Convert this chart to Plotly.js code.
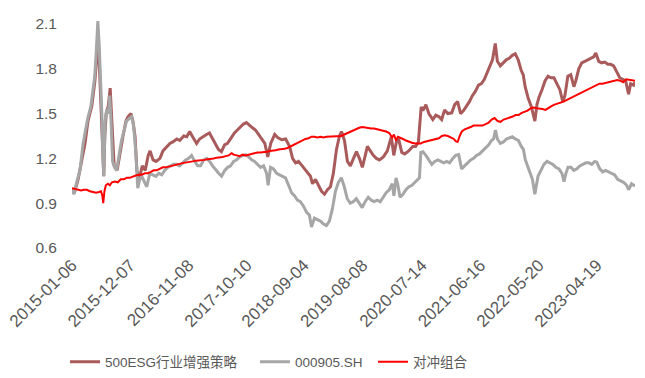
<!DOCTYPE html>
<html>
<head>
<meta charset="utf-8">
<script src="https://cdn.plot.ly/plotly-3.0.1.min.js"></script>
<style>html,body{margin:0;padding:0;background:#fff;}#chart{width:645px;height:378px;}</style>
</head>
<body>
<div id="chart"></div>
<script>
var tickDates = ['2015-01-06','2015-12-07','2016-11-08','2017-10-10','2018-09-04','2019-08-08','2020-07-14','2021-06-16','2022-05-20','2023-04-19'];
var tickLabels = ['2015-01-06','2015-12-07','2016-11-08','2017-10-10','2018-09-04','2019-08-08','2020-07-14','2021-06-16','2022-05-20','2023-04-19'];
var yTicks = [0.6, 0.9, 1.2, 1.5, 1.8, 2.1];

var esgDates = ['2015-01-06','2015-01-20','2015-02-10','2015-03-04','2015-03-22','2015-04-08','2015-04-30','2015-05-18','2015-05-29','2015-06-05','2015-06-13','2015-06-22','2015-06-28','2015-07-08','2015-07-14','2015-07-22','2015-08-03','2015-08-14','2015-08-25','2015-09-06','2015-09-23','2015-10-10','2015-10-27','2015-11-13','2015-11-25','2015-12-12','2015-12-23','2016-01-04','2016-01-15','2016-01-26','2016-02-15','2016-03-03','2016-03-20','2016-03-31','2016-04-17','2016-05-04','2016-05-27','2016-06-13','2016-07-06','2016-07-23','2016-08-09','2016-09-01','2016-09-18','2016-10-11','2016-10-28','2016-11-14','2016-12-01','2016-12-24','2017-01-10','2017-01-27','2017-02-19','2017-03-08','2017-03-26','2017-04-12','2017-04-29','2017-05-16','2017-06-03','2017-06-20','2017-07-13','2017-07-30','2017-08-16','2017-09-03','2017-09-20','2017-10-07','2017-10-24','2017-11-11','2017-11-28','2017-12-15','2018-01-04','2018-01-21','2018-02-07','2018-02-24','2018-03-19','2018-04-05','2018-04-28','2018-05-21','2018-06-13','2018-06-30','2018-07-17','2018-08-03','2018-08-21','2018-09-07','2018-09-24','2018-10-11','2018-10-23','2018-11-09','2018-11-26','2018-12-14','2018-12-31','2019-01-17','2019-02-03','2019-02-20','2019-03-10','2019-03-27','2019-04-08','2019-04-25','2019-05-12','2019-05-29','2019-06-16','2019-07-03','2019-07-20','2019-08-06','2019-08-23','2019-09-04','2019-09-21','2019-10-08','2019-10-26','2019-11-12','2019-12-05','2019-12-28','2020-01-09','2020-01-20','2020-02-03','2020-02-20','2020-03-03','2020-03-20','2020-04-06','2020-04-29','2020-05-22','2020-06-08','2020-06-24','2020-07-06','2020-07-10','2020-07-20','2020-08-06','2020-08-23','2020-09-15','2020-10-02','2020-10-19','2020-11-05','2020-11-22','2020-12-10','2021-01-02','2021-01-19','2021-02-05','2021-02-22','2021-03-11','2021-03-28','2021-04-14','2021-05-01','2021-05-19','2021-06-05','2021-06-22','2021-07-09','2021-07-27','2021-08-13','2021-08-25','2021-09-10','2021-09-22','2021-10-09','2021-10-26','2021-11-12','2021-11-29','2021-12-17','2022-01-03','2022-01-20','2022-02-06','2022-02-18','2022-03-01','2022-03-19','2022-04-05','2022-04-26','2022-05-08','2022-05-20','2022-06-06','2022-06-24','2022-07-11','2022-07-28','2022-08-14','2022-08-31','2022-09-17','2022-10-04','2022-10-16','2022-11-02','2022-11-19','2022-12-07','2022-12-18','2023-01-04','2023-01-21','2023-02-08','2023-02-25','2023-03-14','2023-03-31','2023-04-12','2023-04-29','2023-05-16','2023-06-03','2023-06-20','2023-07-07','2023-07-24','2023-08-11','2023-08-28','2023-09-14','2023-10-01','2023-10-18','2023-10-30','2023-11-16','2023-11-24'];
var esgValues = [1.00,0.97,1.06,1.18,1.30,1.45,1.55,1.72,1.88,2.05,1.82,1.60,1.38,1.08,1.35,1.50,1.55,1.67,1.42,1.15,1.12,1.25,1.35,1.45,1.48,1.50,1.45,1.35,1.12,1.05,1.15,1.12,1.22,1.25,1.19,1.18,1.20,1.25,1.28,1.30,1.31,1.33,1.32,1.35,1.345,1.38,1.345,1.30,1.33,1.345,1.36,1.37,1.33,1.29,1.26,1.245,1.29,1.30,1.34,1.37,1.39,1.41,1.43,1.44,1.42,1.405,1.39,1.36,1.33,1.30,1.21,1.30,1.36,1.34,1.325,1.33,1.28,1.20,1.17,1.18,1.155,1.13,1.10,1.08,1.03,1.06,1.02,0.98,0.96,0.99,1.01,1.10,1.26,1.35,1.38,1.32,1.18,1.15,1.20,1.245,1.20,1.14,1.22,1.28,1.25,1.22,1.20,1.19,1.21,1.25,1.30,1.345,1.22,1.32,1.325,1.24,1.23,1.25,1.28,1.28,1.31,1.50,1.545,1.52,1.56,1.50,1.46,1.49,1.48,1.46,1.525,1.50,1.505,1.56,1.58,1.50,1.52,1.55,1.58,1.62,1.65,1.69,1.70,1.73,1.78,1.83,1.86,1.97,1.85,1.82,1.84,1.86,1.87,1.89,1.90,1.86,1.79,1.76,1.68,1.60,1.55,1.45,1.56,1.61,1.66,1.72,1.75,1.74,1.74,1.70,1.66,1.58,1.62,1.75,1.76,1.68,1.72,1.80,1.84,1.85,1.86,1.87,1.88,1.905,1.85,1.84,1.845,1.83,1.83,1.82,1.78,1.74,1.73,1.72,1.63,1.70,1.69,1.71];

var idxDates = ['2015-01-06','2015-01-17','2015-02-04','2015-02-21','2015-03-11','2015-03-27','2015-04-07','2015-04-25','2015-05-06','2015-05-17','2015-05-26','2015-06-04','2015-06-12','2015-06-21','2015-06-27','2015-07-02','2015-07-08','2015-07-16','2015-07-25','2015-08-05','2015-08-11','2015-08-19','2015-08-28','2015-09-08','2015-09-20','2015-10-04','2015-10-18','2015-11-05','2015-11-16','2015-12-04','2015-12-15','2015-12-27','2016-01-08','2016-01-20','2016-01-31','2016-02-12','2016-02-24','2016-03-12','2016-03-29','2016-04-16','2016-05-03','2016-05-20','2016-06-06','2016-06-23','2016-07-10','2016-07-28','2016-08-14','2016-08-31','2016-09-17','2016-10-05','2016-10-22','2016-11-08','2016-11-25','2016-12-13','2016-12-30','2017-01-16','2017-02-03','2017-02-20','2017-03-09','2017-03-26','2017-04-13','2017-04-30','2017-05-17','2017-06-04','2017-06-21','2017-07-08','2017-07-25','2017-08-12','2017-08-29','2017-09-15','2017-10-02','2017-10-20','2017-11-06','2017-11-23','2017-12-10','2017-12-28','2018-01-14','2018-01-31','2018-02-09','2018-02-23','2018-03-12','2018-03-30','2018-04-16','2018-05-03','2018-05-20','2018-06-07','2018-06-24','2018-07-11','2018-07-28','2018-08-14','2018-09-01','2018-09-18','2018-10-05','2018-10-17','2018-11-03','2018-11-20','2018-12-08','2018-12-25','2019-01-11','2019-01-28','2019-02-14','2019-03-04','2019-03-21','2019-04-07','2019-04-24','2019-05-11','2019-05-28','2019-06-15','2019-07-02','2019-07-19','2019-08-05','2019-08-22','2019-09-09','2019-09-26','2019-10-13','2019-10-31','2019-11-17','2019-12-04','2019-12-21','2020-01-08','2020-01-25','2020-02-04','2020-02-16','2020-02-27','2020-03-10','2020-03-27','2020-04-13','2020-05-01','2020-05-18','2020-06-04','2020-06-30','2020-07-08','2020-07-20','2020-08-06','2020-08-23','2020-09-09','2020-09-26','2020-10-14','2020-10-31','2020-11-17','2020-12-04','2020-12-21','2021-01-08','2021-01-25','2021-02-11','2021-02-28','2021-03-17','2021-04-03','2021-04-21','2021-05-08','2021-05-25','2021-06-11','2021-06-29','2021-07-16','2021-08-02','2021-08-19','2021-08-31','2021-09-11','2021-09-22','2021-10-09','2021-10-27','2021-11-13','2021-11-30','2021-12-17','2022-01-04','2022-01-21','2022-02-07','2022-02-19','2022-03-02','2022-03-14','2022-03-25','2022-04-12','2022-04-26','2022-05-14','2022-05-31','2022-06-17','2022-07-05','2022-07-22','2022-08-08','2022-08-25','2022-09-12','2022-09-29','2022-10-11','2022-10-22','2022-11-03','2022-11-20','2022-12-07','2022-12-24','2023-01-10','2023-01-27','2023-02-14','2023-03-03','2023-03-20','2023-04-06','2023-04-18','2023-05-05','2023-05-22','2023-06-08','2023-06-26','2023-07-13','2023-07-30','2023-08-16','2023-09-02','2023-09-19','2023-10-07','2023-10-18','2023-11-04','2023-11-15','2023-11-24'];
var idxValues = [1.00,0.96,1.05,1.12,1.30,1.40,1.47,1.55,1.64,1.75,1.92,2.12,1.95,1.72,1.50,1.25,1.08,1.45,1.53,1.50,1.62,1.45,1.18,1.14,1.12,1.22,1.32,1.40,1.45,1.47,1.48,1.42,1.25,1.00,1.06,1.08,1.05,1.01,1.10,1.09,1.08,1.10,1.09,1.12,1.14,1.15,1.16,1.16,1.15,1.17,1.19,1.20,1.22,1.18,1.15,1.15,1.19,1.20,1.18,1.15,1.12,1.10,1.08,1.12,1.14,1.15,1.18,1.19,1.21,1.22,1.225,1.21,1.19,1.18,1.16,1.14,1.15,1.10,1.02,1.14,1.13,1.10,1.09,1.08,1.07,1.02,0.97,0.95,0.92,0.91,0.88,0.84,0.82,0.74,0.80,0.79,0.78,0.76,0.75,0.78,0.86,0.98,1.04,1.07,1.01,0.93,0.90,0.91,0.93,0.90,0.87,0.91,0.94,0.92,0.91,0.92,0.91,0.94,0.97,0.99,1.03,0.95,1.07,1.02,0.94,0.96,0.99,1.01,1.02,1.04,1.07,1.24,1.245,1.22,1.19,1.16,1.18,1.19,1.18,1.17,1.18,1.17,1.20,1.22,1.225,1.13,1.15,1.17,1.19,1.20,1.22,1.23,1.25,1.27,1.29,1.32,1.33,1.39,1.33,1.30,1.31,1.33,1.34,1.345,1.33,1.32,1.28,1.26,1.19,1.15,1.12,1.06,0.96,1.08,1.12,1.16,1.18,1.17,1.16,1.14,1.13,1.10,1.045,1.10,1.14,1.14,1.12,1.13,1.15,1.16,1.17,1.17,1.16,1.18,1.175,1.13,1.11,1.12,1.11,1.10,1.09,1.06,1.05,1.04,1.02,0.99,1.03,1.02,1.02];

var hedgeDates = ['2015-01-06','2015-01-23','2015-02-10','2015-02-27','2015-03-16','2015-04-02','2015-04-19','2015-05-07','2015-05-24','2015-06-10','2015-06-22','2015-06-30','2015-07-05','2015-07-12','2015-07-20','2015-08-01','2015-08-12','2015-08-24','2015-09-10','2015-09-27','2015-10-14','2015-10-31','2015-11-18','2015-12-05','2015-12-22','2016-01-08','2016-01-26','2016-02-12','2016-02-29','2016-03-17','2016-04-04','2016-04-21','2016-05-08','2016-05-25','2016-06-12','2016-06-29','2016-07-16','2016-08-03','2016-08-20','2016-09-06','2016-09-23','2016-10-11','2016-10-28','2016-11-14','2016-12-01','2016-12-19','2017-01-05','2017-01-22','2017-02-09','2017-02-26','2017-03-15','2017-04-01','2017-04-19','2017-05-06','2017-05-23','2017-06-10','2017-06-27','2017-07-14','2017-07-25','2017-08-12','2017-08-29','2017-09-15','2017-10-02','2017-10-20','2017-11-06','2017-11-23','2017-12-10','2017-12-28','2018-01-14','2018-01-31','2018-02-17','2018-03-07','2018-03-24','2018-04-10','2018-04-27','2018-05-15','2018-06-01','2018-06-18','2018-07-05','2018-07-23','2018-08-09','2018-08-26','2018-09-12','2018-09-30','2018-10-17','2018-11-03','2018-11-20','2018-12-08','2018-12-25','2019-01-11','2019-01-28','2019-02-14','2019-03-04','2019-03-21','2019-04-07','2019-04-24','2019-05-11','2019-05-28','2019-06-15','2019-07-02','2019-07-19','2019-08-05','2019-08-22','2019-09-09','2019-09-26','2019-10-13','2019-10-31','2019-11-17','2019-12-04','2019-12-21','2020-01-08','2020-01-25','2020-02-04','2020-02-16','2020-02-27','2020-03-10','2020-03-27','2020-04-13','2020-05-01','2020-05-18','2020-06-04','2020-06-21','2020-07-08','2020-07-26','2020-08-12','2020-08-29','2020-09-16','2020-10-03','2020-10-20','2020-11-06','2020-11-23','2020-12-11','2020-12-28','2021-01-14','2021-01-25','2021-02-05','2021-02-17','2021-03-01','2021-03-18','2021-04-04','2021-04-21','2021-05-08','2021-05-26','2021-06-12','2021-06-29','2021-07-16','2021-08-03','2021-08-20','2021-09-06','2021-09-23','2021-10-10','2021-10-28','2021-11-14','2021-12-01','2021-12-19','2022-01-05','2022-01-22','2022-02-09','2022-02-26','2022-03-15','2022-04-01','2022-04-19','2022-05-06','2022-05-23','2022-06-09','2022-06-26','2022-07-14','2022-07-31','2022-08-17','2022-09-03','2022-09-21','2022-10-08','2022-10-25','2022-11-11','2022-11-29','2022-12-16','2023-01-02','2023-01-19','2023-02-06','2023-02-23','2023-03-12','2023-03-29','2023-04-15','2023-05-03','2023-05-20','2023-06-06','2023-06-23','2023-07-10','2023-07-28','2023-08-14','2023-08-31','2023-09-17','2023-10-04','2023-10-21','2023-11-07','2023-11-24'];
var hedgeValues = [1.00,0.995,0.99,0.985,0.99,0.99,0.98,0.975,0.97,0.975,0.98,0.95,0.90,0.98,1.02,1.03,1.02,1.04,1.045,1.04,1.06,1.06,1.07,1.07,1.08,1.085,1.09,1.09,1.10,1.10,1.11,1.12,1.12,1.13,1.14,1.14,1.145,1.15,1.16,1.16,1.165,1.17,1.175,1.175,1.18,1.185,1.185,1.19,1.19,1.195,1.20,1.20,1.205,1.21,1.21,1.215,1.22,1.235,1.225,1.22,1.215,1.225,1.22,1.225,1.23,1.235,1.24,1.24,1.24,1.245,1.25,1.25,1.255,1.26,1.26,1.265,1.27,1.28,1.29,1.30,1.31,1.32,1.33,1.335,1.345,1.345,1.34,1.345,1.34,1.345,1.345,1.35,1.35,1.345,1.35,1.36,1.37,1.38,1.39,1.395,1.405,1.41,1.405,1.40,1.40,1.40,1.395,1.39,1.385,1.38,1.37,1.34,1.36,1.32,1.345,1.34,1.33,1.32,1.31,1.305,1.30,1.30,1.30,1.31,1.315,1.32,1.325,1.33,1.335,1.35,1.355,1.35,1.34,1.33,1.315,1.31,1.35,1.38,1.395,1.40,1.41,1.42,1.42,1.425,1.42,1.43,1.44,1.46,1.47,1.45,1.445,1.46,1.465,1.47,1.48,1.49,1.49,1.505,1.51,1.52,1.535,1.54,1.535,1.535,1.53,1.525,1.54,1.55,1.56,1.565,1.575,1.58,1.59,1.60,1.61,1.62,1.63,1.64,1.65,1.66,1.67,1.68,1.69,1.70,1.70,1.705,1.71,1.715,1.72,1.725,1.72,1.71,1.73,1.725,1.72,1.72];

var names = ['500ESG行业增强策略', '000905.SH', '对冲组合'];
var colors = ['#A95B5B', '#A6A6A6', '#FF0000'];

var fontFam = 'Liberation Sans, Noto Sans CJK SC, sans-serif';
var traces = [
  {x: esgDates, y: esgValues, name: names[0], type: 'scatter', mode: 'lines', line: {color: colors[0], width: 3}, legend: 'legend'},
  {x: idxDates, y: idxValues, name: names[1], type: 'scatter', mode: 'lines', line: {color: colors[1], width: 3}, legend: 'legend2'},
  {x: hedgeDates, y: hedgeValues, name: names[2], type: 'scatter', mode: 'lines', line: {color: colors[2], width: 2}, legend: 'legend3'}
];

function legendAt(xFrac) {
  return {orientation: 'h', xref: 'container', yref: 'container', x: xFrac, xanchor: 'left', y: 0.0423, yanchor: 'middle',
          font: {family: fontFam, size: 13.5, color: '#595959'}, itemwidth: 30, bgcolor: 'rgba(0,0,0,0)'};
}

var layout = {
  width: 645, height: 378,
  margin: {l: 72, r: 10, t: 18, b: 130, autoexpand: false},
  paper_bgcolor: '#ffffff', plot_bgcolor: '#ffffff',
  font: {family: fontFam, color: '#595959', size: 14},
  showlegend: true,
  legend: legendAt(0.1008),
  legend2: legendAt(0.3953),
  legend3: legendAt(0.5783),
  xaxis: {type: 'date', range: ['2015-01-06', '2023-11-24'], tickmode: 'array', tickvals: tickDates, ticktext: tickLabels,
          tickangle: -45, showgrid: false, zeroline: false, showline: false, ticks: '', ticklabelstandoff: 3, automargin: false,
          tickfont: {family: fontFam, size: 17, color: '#595959'}},
  yaxis: {range: [0.6, 2.14], tickmode: 'array', tickvals: yTicks, ticktext: yTicks.map(function(v){return v.toFixed(1);}),
          showgrid: false, zeroline: false, showline: false, ticks: '', ticklabelstandoff: 14, automargin: false,
          tickfont: {family: fontFam, size: 15.5, color: '#595959'}}
};

Plotly.newPlot('chart', traces, layout, {displayModeBar: false, staticPlot: true});
</script>
</body>
</html>
